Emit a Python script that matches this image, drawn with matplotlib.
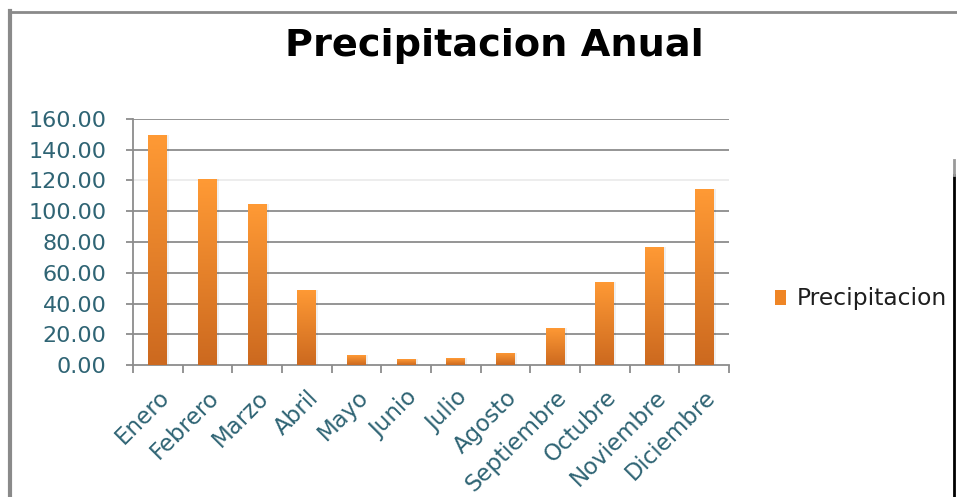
import numpy as np
import matplotlib.pyplot as plt
from matplotlib.colors import LinearSegmentedColormap
from matplotlib.lines import Line2D
from matplotlib.patches import Rectangle

meses = ['Enero', 'Febrero', 'Marzo', 'Abril', 'Mayo', 'Junio', 'Julio',
         'Agosto', 'Septiembre', 'Octubre', 'Noviembre', 'Diciembre']
precipitacion = [149.5, 120.8, 104.5, 48.8, 6.5, 3.7, 4.3, 8.0, 24.3, 54.2, 76.9, 114.3]
y_ticks = [0, 20, 40, 60, 80, 100, 120, 140, 160]

W, H = 957, 497
fig = plt.figure(figsize=(W / 100, H / 100), dpi=100)
fig.patch.set_facecolor('white')

# plot area in pixel coordinates
left, right, top, bottom = 133, 729, 119, 365
ax = fig.add_axes([left / W, 1 - bottom / H, (right - left) / W, (bottom - top) / H])

txt_color = '#2f6474'
grid_color = '#8c8c8c'

x = np.arange(len(meses))

for yv in y_ticks[1:]:
    c = '#ececec' if yv == 120 else grid_color
    ax.axhline(yv, color=c, lw=1.3, zorder=1)

bars = ax.bar(x, precipitacion, width=0.38, color='#f28a2a', zorder=3)

# orange vertical gradient inside each bar, with a faint shadow
cmap = LinearSegmentedColormap.from_list('naranja', ['#cc691f', '#ff9a35'])
grad = np.linspace(0, 1, 256).reshape(-1, 1)
for b in bars:
    x0, w, h = b.get_x(), b.get_width(), b.get_height()
    sh = Rectangle((x0 + 0.04, 0), w, h, color='#000000', alpha=0.06, zorder=2, lw=0)
    ax.add_patch(sh)
    im = ax.imshow(grad, cmap=cmap, aspect='auto', origin='lower',
                   extent=(x0, x0 + w, 0, h), zorder=4)
    im.set_clip_path(b)
ax.set_xlim(-0.5, len(meses) - 0.5)
ax.set_ylim(0, 160)

for s in ['top', 'right']:
    ax.spines[s].set_visible(False)
for s in ['left', 'bottom']:
    ax.spines[s].set_color(grid_color)
    ax.spines[s].set_linewidth(1.3)

ax.set_yticks(y_ticks)
ax.set_yticklabels([f'{v:.2f}' for v in y_ticks])
ax.tick_params(axis='y', length=5, width=1.3, color=grid_color, pad=14,
               labelsize=16, labelcolor=txt_color)

ax.set_xticks(x)
ax.set_xticklabels(meses, rotation=45, ha='right', va='top', rotation_mode='anchor')
ax.set_xticks(np.arange(-0.5, len(meses)), minor=True)
ax.tick_params(axis='x', which='major', length=0, pad=15, labelsize=16.5,
               labelcolor=txt_color)
ax.tick_params(axis='x', which='minor', length=6, width=1.3, color=grid_color)

fig.text(494 / W, 1 - 46 / H, 'Precipitacion Anual', ha='center', va='center',
         fontsize=27.5, fontweight='bold', color='black')

# legend
fig.add_artist(Rectangle((775 / W, 1 - 305 / H), 11 / W, 15 / H,
                         transform=fig.transFigure, color='#ef8525', lw=0))
fig.text(797 / W, 1 - 298 / H, 'Precipitacion', ha='left', va='center',
         fontsize=16.8, color='#1e1e1e')

# chart frame
fig.add_artist(Line2D([9 / W, 1], [1 - 12 / H, 1 - 12 / H], color='#8a8a8a', lw=2))
fig.add_artist(Line2D([10 / W, 10 / W], [0, 1 - 11 / H], color='#8a8a8a', lw=3))
fig.add_artist(Line2D([954 / W, 954 / W], [0, 1 - 175 / H], color='black', lw=2))
fig.add_artist(Line2D([954 / W, 954 / W], [1 - 175 / H, 1 - 160 / H], color='#999999', lw=2))

fig.savefig('out.png', dpi=100)
